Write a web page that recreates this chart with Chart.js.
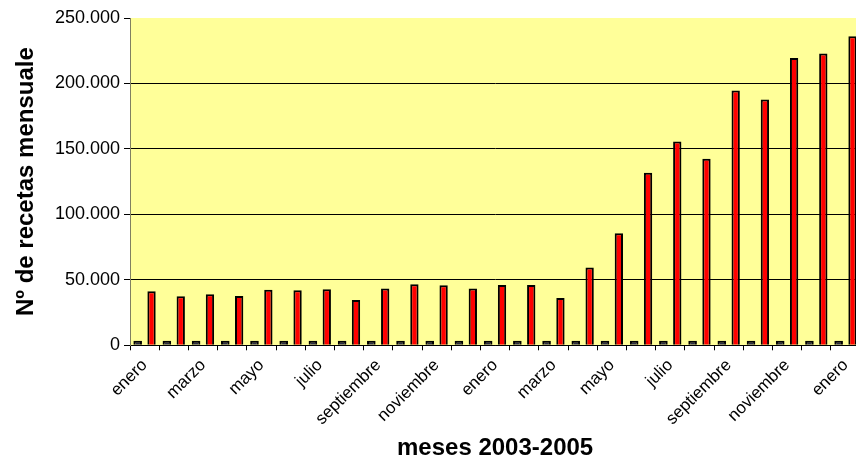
<!DOCTYPE html>
<html>
<head>
<meta charset="utf-8">
<script src="https://cdn.jsdelivr.net/npm/chart.js@4"></script>
<style>
  html, body { margin: 0; padding: 0; background: #fff; overflow: hidden; }
  #wrap { width: 865px; height: 464px; }
</style>
</head>
<body>
<div id="wrap"><canvas id="recetasChart"></canvas></div>
<script>
// meses enero 2003 - enero 2005
const meses = [
  'enero', 'febrero', 'marzo', 'abril', 'mayo', 'junio', 'julio', 'agosto',
  'septiembre', 'octubre', 'noviembre', 'diciembre',
  'enero', 'febrero', 'marzo', 'abril', 'mayo', 'junio', 'julio', 'agosto',
  'septiembre', 'octubre', 'noviembre', 'diciembre',
  'enero'
];
const serieBase = [
  3500, 3500, 3500, 3500, 3500, 3500, 3500, 3500, 3500, 3500, 3500, 3500,
  3500, 3500, 3500, 3500, 3500, 3500, 3500, 3500, 3500, 3500, 3500, 3500,
  3500
];
const recetas = [
  41300, 37500, 39000, 37700, 42500, 42000, 42800, 34600, 43300, 46600, 45800, 43300,
  46000, 46000, 36200, 59500, 85600, 131800, 155600, 142500, 194600, 187700, 219500, 222800,
  236000
];
const yTicks = [0, 50000, 100000, 150000, 200000, 250000];

// fondo amarillo del area de trazado
const plotBg = {
  id: 'plotBg',
  beforeDraw(chart) {
    const { ctx, chartArea: a } = chart;
    ctx.save();
    ctx.fillStyle = '#FFFF99';
    ctx.fillRect(a.left, a.top, a.right - a.left, a.bottom - a.top);
    ctx.restore();
  }
};

const fmt = v => v.toString().replace(/\B(?=(\d{3})+(?!\d))/g, '.');
const fuente = 'Arial, "Liberation Sans"';

new Chart(document.getElementById('recetasChart').getContext('2d'), {
  type: 'bar',
  data: {
    labels: meses,
    datasets: [
      {
        data: serieBase,
        backgroundColor: '#2b2b45',
        borderColor: '#000',
        borderWidth: 2,
        categoryPercentage: 0.95,
        barPercentage: 0.62
      },
      {
        data: recetas,
        backgroundColor: '#FF0000',
        borderColor: '#000',
        borderWidth: 2,
        categoryPercentage: 0.95,
        barPercentage: 0.6
      }
    ]
  },
  options: {
    responsive: true,
    maintainAspectRatio: false,
    animation: false,
    layout: { padding: { top: 18, right: 0, left: 8, bottom: 1 } },
    plugins: {
      legend: { display: false },
      tooltip: { enabled: false }
    },
    scales: {
      x: {
        grid: { offset: true, drawOnChartArea: false, color: '#000', tickLength: 5 },
        border: { color: '#000' },
        ticks: {
          autoSkip: false,
          maxRotation: 45,
          minRotation: 45,
          padding: 5,
          color: '#000',
          font: { family: fuente, size: 17 },
          callback: (v, i) => (i % 2 === 0 ? meses[i] : '')
        },
        title: {
          display: true,
          text: 'meses 2003-2005',
          color: '#000',
          font: { family: fuente, size: 24, weight: 'bold' },
          padding: { top: 0, bottom: 0 }
        }
      },
      y: {
        min: 0,
        max: 250000,
        afterBuildTicks: axis => { axis.ticks = yTicks.map(v => ({ value: v })); },
        afterFit: axis => { axis.width = 122; },
        grid: {
          color: ctx => (ctx.tick && ctx.tick.value === 250000 ? 'rgba(0,0,0,0)' : '#000'),
          tickColor: '#000',
          tickLength: 6
        },
        border: { color: '#808060' },
        ticks: {
          color: '#000',
          padding: 4,
          font: { family: fuente, size: 18 },
          callback: v => fmt(v)
        },
        title: {
          display: true,
          text: 'Nº de recetas mensuale',
          color: '#000',
          font: { family: fuente, size: 24, weight: 'bold' },
          padding: 4
        }
      }
    }
  },
  plugins: [plotBg]
});
</script>
</body>
</html>
